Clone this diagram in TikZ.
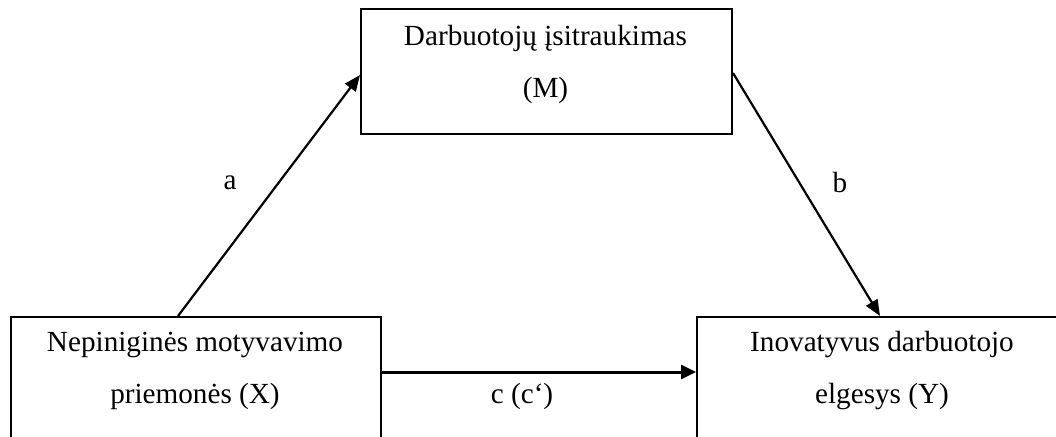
\documentclass[tikz,border=0pt]{standalone}
\usepackage{fontspec}
\setmainfont{Liberation Serif}
\usetikzlibrary{arrows.meta,calc}
\begin{document}
\begin{tikzpicture}[x=1pt,y=-1pt,
  boxnode/.style={draw=black,line width=2pt,inner sep=0pt,anchor=north west},
  txtnode/.style={align=center,inner sep=0pt,font=\fontsize{29.2}{52}\selectfont},
  lbl/.style={inner sep=0pt,font=\fontsize{29.2}{35}\selectfont},
  conn/.style={line width=2.2pt,-{Triangle[length=16pt,width=13pt]}},
  connthick/.style={line width=3pt,-{Triangle[length=15pt,width=14pt]}}]
\useasboundingbox (0,0) rectangle (1056,436);
% boxes
\node[boxnode,minimum width=371pt,minimum height=125pt] (M) at (360,8) {};
\node[boxnode,minimum width=370pt,minimum height=160pt] (X) at (10,316) {};
\node[boxnode,minimum width=400pt,minimum height=160pt] (Y) at (696,316) {};
% texts
\node[txtnode] (Mt) at (545.5,64.5) {Darbuotojų įsitraukimas\\(M)};
\node[txtnode] (Xt) at (195,370.5) {Nepiniginės motyvavimo\\priemonės (X)};
\node[txtnode] (Yt) at (882,370.5) {Inovatyvus darbuotojo\\elgesys (Y)};
% connectors
\coordinate (aS) at ($(X.north west)+(168,0)$);
\coordinate (aE) at ($(M.north west)+(0,67)$);
\coordinate (bS) at ($(M.north east)+(0,65)$);
\coordinate (bE) at ($(Y.north west)+(184,0)$);
\coordinate (cS) at ($(X.north east)+(0,56)$);
\coordinate (cE) at ($(Y.north west)+(0,56)$);
\draw[conn] (aS) -- (aE);
\draw[conn] (bS) -- (bE);
\draw[connthick] (cS) -- (cE);
% labels
\node[lbl] (la) at (230,183) {a};
\node[lbl] (lb) at (840,183) {b};
\node[lbl] (lc) at (522,396) {c (c‘)};
\end{tikzpicture}
\end{document}
